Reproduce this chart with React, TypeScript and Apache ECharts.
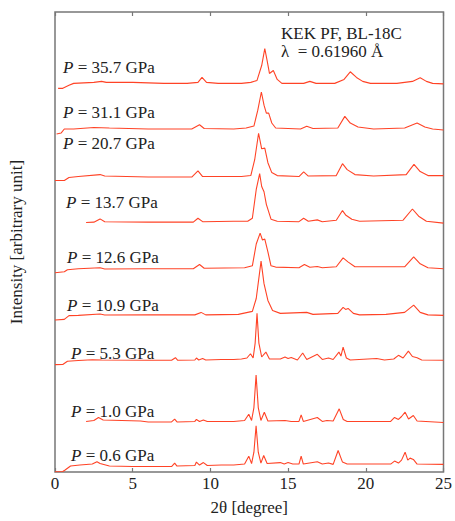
import React, { useEffect, useRef } from "react";
import * as echarts from "echarts";

const xTicks = [0, 5, 10, 15, 20, 25];

const labels = ["35.7", "31.1", "20.7", "13.7", "12.6", "10.9", "5.3", "1.0", "0.6"];
const labelPos: number[][] = [
  [63, 69], [63, 114], [63, 145], [66, 204], [67, 259], [67, 307], [71, 355], [71, 413], [71, 457],
];

const s357: number[][] = [
  [0.2, 387], [0.5, 387], [0.9, 390], [1.2, 392], [2.5, 393], [3.0, 394], [3.3, 393], [5.0, 393], [7.0, 392],
  [8.5, 392], [9.2, 393], [9.46, 398], [9.75, 393], [10.5, 392], [12.0, 392], [12.6, 393], [13.0, 395],
  [13.3, 410], [13.5, 427], [13.65, 415], [13.8, 402], [14.05, 405], [14.3, 396], [14.6, 392], [16.0, 392],
  [16.4, 394], [16.8, 392], [18.0, 392], [18.6, 396], [19.0, 403.7], [19.4, 398], [19.8, 394], [20.3, 392],
  [22.0, 392], [23.0, 394], [23.5, 397.7], [23.9, 394], [24.3, 392], [25, 391.5],
];
const s311: number[][] = [
  [0.1, 341], [0.4, 342], [0.6, 346], [1.2, 346], [2.5, 347.5], [3.5, 347], [6, 346], [8.8, 346], [9.3, 350.3],
  [9.6, 346.5], [11.5, 346], [12.3, 347], [12.8, 349], [13.05, 365], [13.28, 383.3], [13.45, 370], [13.6, 362],
  [13.75, 362], [13.95, 352], [14.2, 347], [15.8, 346], [16.2, 348.7], [16.6, 346.5], [18.2, 347], [18.65, 358.7],
  [19.0, 352], [19.5, 348], [20.5, 346], [22.5, 347], [23.3, 352], [23.8, 348], [24.3, 346], [25, 345],
];
const s207: number[][] = [
  [0, 294], [0.6, 294], [0.9, 297], [1.5, 298], [2.9, 300], [3.2, 298.5], [6, 297.5], [8.8, 297.5], [9.2, 303.7],
  [9.5, 298], [12, 298], [12.6, 299], [12.85, 315], [13.1, 341.7], [13.3, 326], [13.5, 326.7], [13.7, 312],
  [13.95, 302], [14.3, 299], [15.7, 298], [16.0, 302.7], [16.3, 298.5], [18.1, 299], [18.5, 311], [18.8, 305],
  [19.3, 300], [20.5, 298.5], [22.6, 300], [23.1, 310.3], [23.5, 303], [24, 299], [25, 299],
];
const s137: number[][] = [
  [2.0, 251.7], [2.5, 252], [2.9, 255.3], [3.2, 252.5], [6, 252], [8.9, 252], [9.2, 256], [9.5, 252.5],
  [11.5, 253], [12.4, 253], [12.7, 256], [12.95, 285], [13.17, 301], [13.3, 288], [13.45, 282.7], [13.6, 270],
  [13.9, 255], [14.3, 253], [15.7, 252.5], [16.0, 256], [16.3, 253], [16.88, 254.3], [17.2, 252.5], [18.1, 254],
  [18.5, 263.7], [18.7, 259.3], [19.1, 255], [19.6, 253], [22.4, 254], [23.0, 265.3], [23.4, 258], [23.9, 253],
  [25, 251],
];
const s126: number[][] = [
  [0, 201], [0.6, 202], [0.8, 204], [1.5, 205], [2.9, 206], [3.2, 204.8], [6, 205], [8.9, 205], [9.3, 209.3],
  [9.6, 205.5], [12.2, 206], [12.7, 208], [12.95, 230], [13.2, 241], [13.35, 234], [13.5, 235], [13.7, 222],
  [13.9, 208], [14.2, 206.7], [15.7, 206], [16.05, 209.3], [16.4, 206.5], [16.88, 207.3], [17.2, 206], [18.1, 207],
  [18.54, 216], [18.85, 212], [19.3, 207], [22.5, 207], [23.08, 217], [23.5, 210], [24, 206], [25, 205],
];
const s109: number[][] = [
  [0, 153.3], [0.6, 154], [0.9, 157.7], [1.5, 158], [2.9, 159.3], [3.2, 158.3], [6, 158.5], [9.0, 158.5],
  [9.4, 161], [9.7, 158.5], [11.8, 159], [12.7, 162], [12.95, 175], [13.26, 212.7], [13.45, 190], [13.7, 173],
  [14.0, 163], [14.5, 160], [16.2, 161], [16.6, 159], [18.2, 160], [18.54, 166], [18.7, 164], [18.86, 165],
  [19.2, 160], [19.6, 158.5], [21.3, 159], [22.5, 161], [23.08, 168.3], [23.5, 161], [24, 158.5], [25, 158],
];
const s53: number[][] = [
  [0, 108.3], [0.5, 108.5], [0.8, 111.7], [1.5, 112.5], [2.4, 113.3], [3.0, 113], [6.0, 112.7], [7.5, 112.7],
  [7.75, 115.3], [7.9, 112.7], [9.0, 113], [9.1, 115], [9.25, 113], [9.5, 114.5], [9.7, 113], [10.7, 113.5],
  [11.5, 113.5], [12.0, 114], [12.35, 115], [12.58, 119.3], [12.75, 115], [12.88, 130], [13.0, 160], [13.12, 130],
  [13.3, 116], [13.57, 121], [13.8, 114], [14.5, 114], [14.8, 116], [15.0, 114.5], [15.2, 115.5], [15.6, 113],
  [15.94, 120], [16.2, 113.5], [16.88, 118.7], [17.2, 113.5], [17.6, 115], [17.9, 113.5], [18.27, 121],
  [18.4, 117], [18.54, 126], [18.75, 115], [19.0, 113], [20.7, 114.5], [21.2, 113], [21.8, 114], [22.1, 117.7],
  [22.4, 115], [22.74, 122], [23.0, 116.5], [23.3, 115.3], [23.6, 113], [25, 112.7],
];
const s10: number[][] = [
  [2.0, 51], [2.5, 52], [2.8, 55], [3.1, 52.5], [5.5, 51.5], [6.0, 50.5], [7.5, 50.5], [7.7, 53.3], [7.85, 50.5],
  [9.0, 51], [9.1, 53], [9.3, 51], [9.55, 52.5], [9.8, 51], [11.5, 51], [12.2, 52], [12.47, 58.3], [12.65, 52],
  [12.8, 65], [12.94, 97.7], [13.08, 65], [13.25, 52], [13.47, 60.3], [13.7, 51.5], [14.8, 52], [15.2, 51],
  [15.7, 51], [15.84, 57.7], [15.98, 51], [16.88, 55], [17.2, 51], [17.5, 52], [17.9, 51.5], [18.29, 63.7],
  [18.55, 53], [18.8, 51], [21.6, 51], [21.85, 55], [22.1, 53], [22.3, 56], [22.53, 60.3], [22.75, 53.5],
  [23.06, 57], [23.3, 51.5], [25, 50],
];
const s06: number[][] = [
  [0.0, 0.3], [0.5, 0.5], [0.65, 2], [1.0, 6], [1.6, 7], [2.4, 8], [2.7, 10.3], [2.9, 8.5], [3.5, 6], [5.0, 5.5],
  [7.5, 5.5], [7.7, 9], [7.85, 6], [9.0, 6.5], [9.1, 10], [9.3, 7], [9.55, 9.5], [9.8, 6.5], [10.7, 7], [11.5, 7],
  [12.2, 8], [12.47, 16], [12.65, 8.5], [12.8, 20], [12.94, 46.7], [13.08, 20], [13.25, 9], [13.43, 16.7],
  [13.65, 8.5], [14.5, 9.5], [14.75, 8], [15.0, 9.5], [15.3, 8], [15.7, 8], [15.84, 16], [15.98, 8], [16.88, 10.3],
  [17.2, 8], [17.6, 9], [17.9, 7.7], [18.22, 21.7], [18.5, 10], [18.8, 8], [21.6, 8], [21.85, 11], [22.1, 9],
  [22.3, 12], [22.53, 20], [22.7, 12], [22.85, 14], [23.06, 12.7], [23.3, 8], [25, 7.7],
];

const seriesData = [s357, s311, s207, s137, s126, s109, s53, s10, s06];

const FONT = "Liberation Serif, Times New Roman, Times, serif";
const LINE = "#ff4326";

export default function App() {
  const ref = useRef<HTMLDivElement>(null);
  useEffect(() => {
    if (!ref.current) return;
    const chart = echarts.init(ref.current, undefined, { renderer: "svg" });
    const textEls: any[] = labels.map((l, i) => ({
      type: "text",
      left: labelPos[i][0],
      top: labelPos[i][1] - 10,
      style: {
        text: "{i|P} = " + l + " GPa",
        font: "17px " + FONT,
        fill: "#222",
        rich: {
          i: { fontStyle: "italic", fontFamily: FONT, fontSize: 17, fill: "#222" },
        },
      },
    }));
    textEls.push(
      { type: "text", left: 281, top: 25, style: { text: "KEK PF, BL-18C", font: "17px " + FONT, fill: "#222" } },
      { type: "text", left: 281, top: 43, style: { text: "λ  = 0.61960 Å", font: "17px " + FONT, fill: "#222" } }
    );
    chart.setOption({
      animation: false,
      textStyle: { fontFamily: FONT },
      grid: { left: 55, right: 9, top: 12, bottom: 45, show: true, borderColor: "#777", borderWidth: 1.5, backgroundColor: "transparent" },
      xAxis: [
        {
          type: "value", min: 0, max: 25, interval: 5, position: "bottom",
          name: "2θ [degree]", nameLocation: "middle", nameGap: 27,
          nameTextStyle: { fontFamily: FONT, fontSize: 17, color: "#222" },
          axisLine: { show: false },
          axisTick: { show: true, inside: true, length: 4, lineStyle: { color: "#777", width: 1.2 } },
          axisLabel: { margin: 3, fontFamily: FONT, fontSize: 17, color: "#222", customValues: xTicks },
          splitLine: { show: false },
        },
        {
          type: "value", min: 0, max: 25, interval: 5, position: "top",
          axisLine: { show: false },
          axisTick: { show: true, inside: true, length: 4, lineStyle: { color: "#777", width: 1.2 } },
          axisLabel: { show: false },
          splitLine: { show: false },
        },
      ],
      yAxis: {
        type: "value", min: 0, max: 464,
        name: "Intensity [arbitrary unit]", nameLocation: "middle", nameGap: 30,
        nameTextStyle: { fontFamily: FONT, fontSize: 17, color: "#222" },
        axisLine: { show: false }, axisTick: { show: false }, axisLabel: { show: false }, splitLine: { show: false },
      },
      series: seriesData.map((d, i) => ({
        type: "line",
        name: labels[i],
        data: d,
        showSymbol: false,
        symbol: "none",
        lineStyle: { color: LINE, width: 1.1 },
        xAxisIndex: 0,
      })),
      graphic: textEls,
    });
    return () => chart.dispose();
  }, []);
  return <div ref={ref} style={{ width: 455, height: 521, position: "absolute", left: 0, top: 0 }} />;
}
